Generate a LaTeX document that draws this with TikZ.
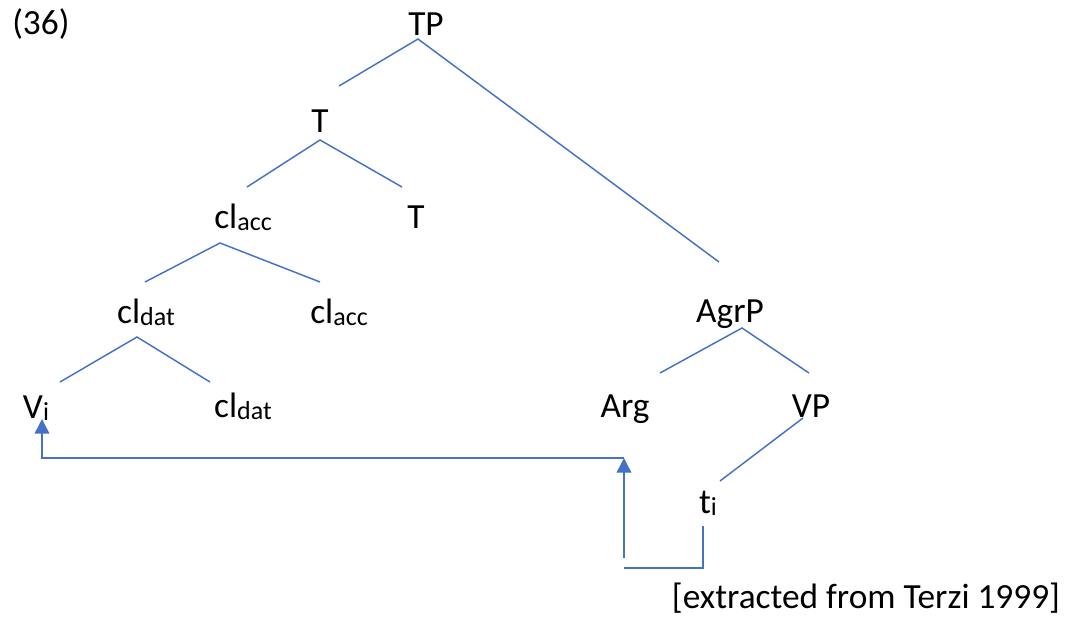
\documentclass[tikz,border=0pt]{standalone}
\usepackage{fontspec}
\setmainfont{Carlito}
\usetikzlibrary{arrows.meta}
\definecolor{branchblue}{HTML}{4472C4}
% lowered, smaller index letters (cl_acc, V_i, ...)
\newcommand\lo[1]{\raisebox{-1.5pt}{\fontsize{19.5}{19.5}\selectfont #1}}
\begin{document}
\begin{tikzpicture}[x=0.75pt,y=-0.75pt,
  lab/.style={anchor=base, inner sep=0pt, font=\fontsize{26.5}{31}\selectfont},
  branch/.style={draw=branchblue, line width=1.1pt},
  move/.style={draw=branchblue, line width=1.1pt,
    -{Triangle[width=11pt,length=11pt]}}]
\useasboundingbox (0,0) rectangle (1072,621);

% example number and source
\node[lab, anchor=base west] (exno) at (12,35) {(36)};
\node[lab] (src) at (866,608) {[extracted from Terzi 1999]};

% tree labels
\node[lab] (TP)    at (426,36)  {TP};
\node[lab] (T1)    at (320,132) {T};
\node[lab] (acc1)  at (243,228) {cl\lo{acc}};
\node[lab] (T2)    at (416,228) {T};
\node[lab] (dat1)  at (146,323) {cl\lo{dat}};
\node[lab] (acc2)  at (339,323) {cl\lo{acc}};
\node[lab] (AgrP)  at (730,322) {AgrP};
\node[lab] (V)     at (36,418)  {V\lo{i}};
\node[lab] (dat2)  at (243,417) {cl\lo{dat}};
\node[lab] (Arg)   at (625,417) {Arg};
\node[lab] (VP)    at (811,417) {VP};
\node[lab] (ti)    at (708,513) {t\lo{i}};

% branch points and branch ends
\coordinate (TP-f)   at (418,39);
\coordinate (T1-e)   at (339,86);
\coordinate (AgrP-e) at (719,262);
\coordinate (T1-f)   at (320,140);
\coordinate (acc1-e) at (247,187);
\coordinate (T2-e)   at (402,187);
\coordinate (acc1-f) at (220,243);
\coordinate (dat1-e) at (145,282);
\coordinate (acc2-e) at (320,282);
\coordinate (dat1-f) at (137,337);
\coordinate (V-e)    at (60,382);
\coordinate (dat2-e) at (210,382);
\coordinate (AgrP-f) at (742,328);
\coordinate (Arg-e)  at (660,373);
\coordinate (VP-e)   at (809,373);
\coordinate (VP-f)   at (803,418);
\coordinate (ti-e)   at (720,481);

\draw[branch] (T1-e) -- (TP-f) -- (AgrP-e);
\draw[branch] (acc1-e) -- (T1-f) -- (T2-e);
\draw[branch] (dat1-e) -- (acc1-f) -- (acc2-e);
\draw[branch] (V-e) -- (dat1-f) -- (dat2-e);
\draw[branch] (Arg-e) -- (AgrP-f) -- (VP-e);
\draw[branch] (VP-f) -- (ti-e);

% movement path: t_i -> Arg -> V_i
\coordinate (ti-foot)  at (703,526);
\coordinate (low-bend) at (624,568);
\coordinate (arg-foot) at (624,558);
\coordinate (arg-tip)  at (624,458);
\coordinate (V-tip)    at (42,419);

\draw[branch] (ti-foot) |- (low-bend);
\draw[move] (arg-foot) -- (arg-tip);
\draw[move] (arg-tip) -| (V-tip);
\end{tikzpicture}
\end{document}
